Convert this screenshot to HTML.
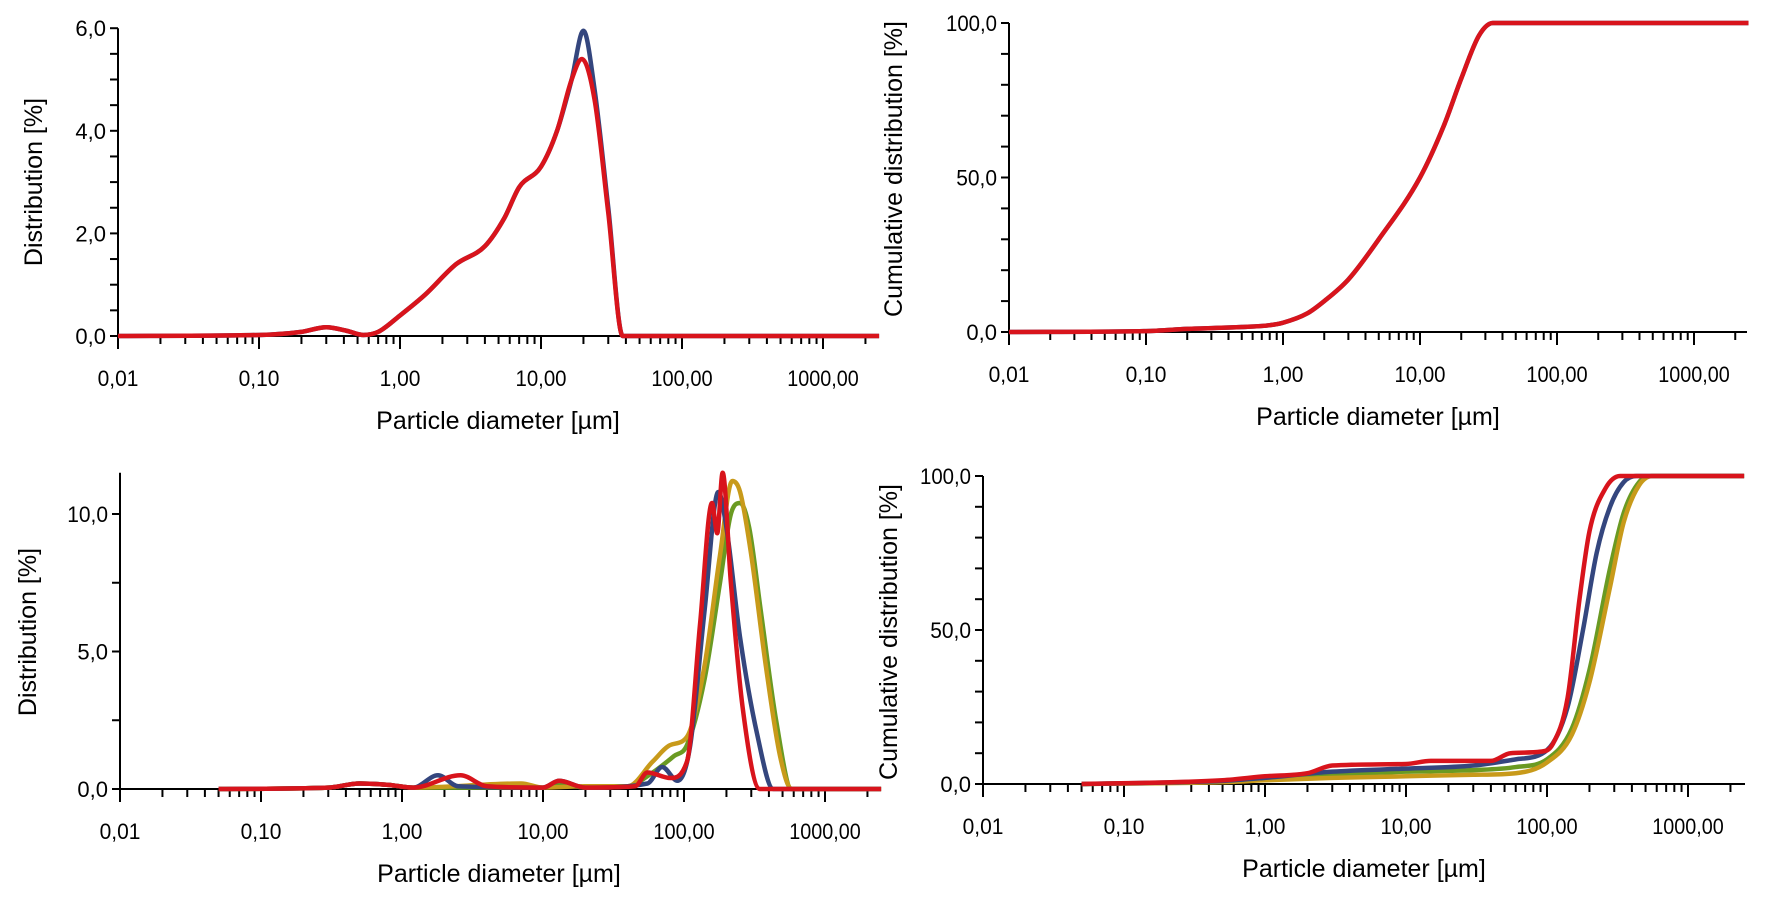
<!DOCTYPE html>
<html><head><meta charset="utf-8"><style>
html,body{margin:0;padding:0;background:#fff;}
svg{display:block;font-family:"Liberation Sans",sans-serif;}
</style></head><body>
<svg id="s" width="1765" height="902" xmlns="http://www.w3.org/2000/svg"></svg>
<script>
const S=document.getElementById('s');let h='';
function add(s){h+=s;}
function mono(P){
 const n=P.length,d=[],m=[];
 for(let i=0;i<n-1;i++)d.push((P[i+1][1]-P[i][1])/(P[i+1][0]-P[i][0]));
 m[0]=d[0];m[n-1]=d[n-2];
 for(let i=1;i<n-1;i++){m[i]=(d[i-1]*d[i]<=0)?0:(d[i-1]+d[i])/2;}
 for(let i=0;i<n-1;i++){if(d[i]==0){m[i]=0;m[i+1]=0;continue;}const a=m[i]/d[i],b=m[i+1]/d[i],s=a*a+b*b;if(s>9){const t=3/Math.sqrt(s);m[i]=t*a*d[i];m[i+1]=t*b*d[i];}}
 let s=`M${P[0][0]},${P[0][1]}`;
 for(let i=0;i<n-1;i++){const dx=(P[i+1][0]-P[i][0])/3;s+=` C${P[i][0]+dx},${P[i][1]+m[i]*dx} ${P[i+1][0]-dx},${P[i+1][1]-m[i+1]*dx} ${P[i+1][0]},${P[i+1][1]}`;}
 return s;
}
function plot(c){
 const X=v=>c.x0+(Math.log10(v)+2)*c.dec, Y=v=>c.y0-v*c.py;
 const xe=c.xe;
 add(`<line x1="${c.x0}" y1="${c.y0}" x2="${xe}" y2="${c.y0}" stroke="#000" stroke-width="2"/>`);
 add(`<line x1="${c.x0}" y1="${c.y0+1}" x2="${c.x0}" y2="${Y(c.ymax)}" stroke="#000" stroke-width="2"/>`);
 for(let e=-2;e<=3;e++){for(let m=1;m<10;m++){const v=m*Math.pow(10,e);const x=X(v);if(x>xe+1)continue;
  add(`<line x1="${x}" y1="${c.y0}" x2="${x}" y2="${c.y0+(m==1?13:8)}" stroke="#000" stroke-width="2"/>`);}}
 const labs=['0,01','0,10','1,00','10,00','100,00','1000,00'];
 labs.forEach((l,i)=>add(`<text x="${c.x0+i*c.dec}" y="${c.y0+50}" font-size="22" text-anchor="middle" textLength="${l.length*10.2}" lengthAdjust="spacingAndGlyphs">${l}</text>`));
 for(let v=0;v<=c.ymax+1e-6;v+=c.minor){const y=Y(v);add(`<line x1="${c.x0-8}" y1="${y}" x2="${c.x0}" y2="${y}" stroke="#000" stroke-width="2"/>`);}
 c.ylabs.forEach(([v,l])=>add(`<text x="${c.x0-12}" y="${Y(v)+8}" font-size="22" text-anchor="end" textLength="${l.length*10.2}" lengthAdjust="spacingAndGlyphs">${l}</text>`));
 add(`<text x="${(c.x0+xe)/2}" y="${c.y0+93}" font-size="25" text-anchor="middle">Particle diameter [µm]</text>`);
 add(`<text transform="translate(${c.tx},${c.ty}) rotate(-90)" font-size="25" text-anchor="middle">${c.title}</text>`);
 c.series.forEach(([col,pts])=>{
  const P=pts.map(([lx,v])=>[X(lx),Y(v)]);
  add(`<path d="${mono(P)}" fill="none" stroke="${col}" stroke-width="4.5" stroke-linejoin="round"/>`);
 });
}
const R='#d8141c',B='#34467e',G='#6a9a22',O='#c89a1a';
const tlBase=[[0.01,0],[0.1,0.02],[0.2,0.08],[0.3,0.17],[0.42,0.1],[0.55,0.02],[0.7,0.08],[1,0.4],[1.5,0.8],[2.5,1.4],[4,1.75],[5.5,2.3],[7,2.9],[10,3.3],[13,4.0],[16.5,5.0]];
plot({x0:118,dec:141,xe:878,y0:336,py:51.3,ymax:6,minor:0.5,
 ylabs:[[0,'0,0'],[2,'2,0'],[4,'4,0'],[6,'6,0']],title:'Distribution [%]',tx:42,ty:182,
 series:[[B,tlBase.concat([[20,5.95],[24,4.8],[30,2.5],[38,0],[60,0],[2500,0]])],
  [R,tlBase.concat([[19.5,5.4],[24,4.6],[30,2.4],[38,0],[60,0],[2500,0]])]]});
const cum=[[0.01,0],[0.1,0.3],[0.2,1],[0.5,1.6],[0.8,2.2],[1,3],[1.5,6],[2,10],[3,17],[5,30],[10,50],[15,67],[20,82],[27,96],[34,100],[60,100],[2500,100]];
plot({x0:1009,dec:137,xe:1747,y0:332,py:3.09,ymax:100,minor:10,
 ylabs:[[0,'0,0'],[50,'50,0'],[100,'100,0']],title:'Cumulative distribution [%]',tx:902,ty:169,
 series:[[B,cum],[R,cum]]});
const small=[[0.05,0],[0.3,0.05],[0.5,0.2],[0.8,0.15],[1.2,0.05]];
plot({x0:120,dec:141,xe:878,y0:789,py:27.5,ymax:11.5,minor:2.5,
 ylabs:[[0,'0,0'],[5,'5,0'],[10,'10,0']],title:'Distribution [%]',tx:36,ty:632,
 series:[[G,small.concat([[10,0.05],[13,0.2],[20,0.05],[40,0.1],[60,0.6],[85,1.2],[105,1.6],[140,4],[180,7.5],[215,10],[250,10.4],[290,9.5],[350,6.5],[450,2.5],[580,0],[2500,0]])],
  [O,small.concat([[7,0.2],[10,0.05],[20,0.1],[40,0.1],[60,1.0],[80,1.6],[105,1.9],[140,4.5],[180,8.5],[220,11.2],[250,10.8],[300,8.5],[380,4.5],[480,1.2],[580,0],[2500,0]])],
  [B,small.concat([[1.8,0.5],[2.5,0.1],[10,0.05],[13,0.3],[20,0.05],[55,0.2],[70,0.8],[90,0.3],[110,1.5],[140,6.5],[175,10.8],[200,9.5],[250,5.5],[330,2],[430,0],[2500,0]])],
  [R,small.concat([[2.6,0.5],[4,0.1],[10,0.05],[13,0.3],[20,0.05],[45,0.1],[55,0.6],[80,0.4],[105,1],[130,6],[158,10.4],[172,9.3],[188,11.5],[215,7.5],[260,3],[345,0],[2500,0]])]]});
plot({x0:983,dec:141,xe:1745,y0:784,py:3.08,ymax:100,minor:10,
 ylabs:[[0,'0,0'],[50,'50,0'],[100,'100,0']],title:'Cumulative distribution [%]',tx:897,ty:632,
 series:[[G,[[0.05,0],[0.5,0.8],[1,1.5],[3,3],[10,4],[30,4.5],[60,5.5],[100,8],[150,18],[200,37],[280,70],[350,88],[450,98],[560,100],[2500,100]]],
  [O,[[0.05,0],[0.5,0.6],[1,1.2],[3,2],[10,2.5],[30,3],[60,3.5],[100,7],[150,16],[200,33],[280,64],[350,85],[450,97],[560,100],[2500,100]]],
  [B,[[0.05,0],[0.5,1],[1,2],[3,4],[10,5],[30,6],[60,8],[100,11],[140,25],[180,50],[225,75],[280,90],[350,98],[430,100],[2500,100]]],
  [R,[[0.05,0],[0.5,1.2],[1,2.5],[2,3.5],[3,6],[10,6.5],[15,7.5],[40,7.5],[55,10],[90,10.5],[110,13],[140,28],[170,60],[200,82],[260,96],[330,100],[2500,100]]]]});
S.innerHTML=h;
</script>
</body></html>
